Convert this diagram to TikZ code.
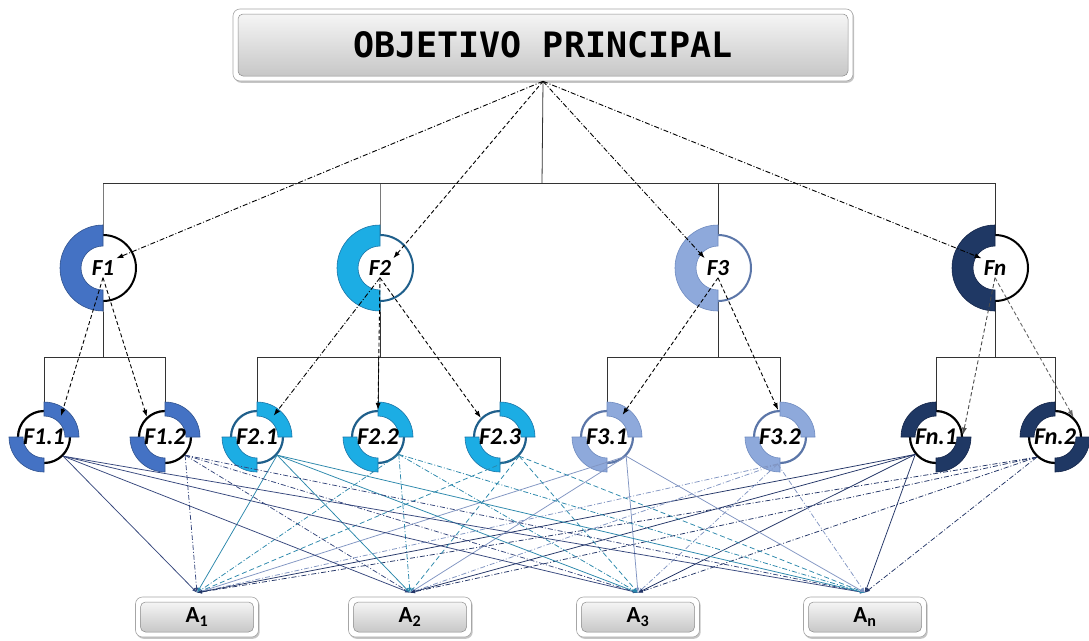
\documentclass[tikz,border=0pt]{standalone}
\usepackage{fontspec}
\usetikzlibrary{arrows.meta,calc,shadows}
\newfontfamily\lblfont{Carlito}
\newfontfamily\titlefont{DejaVu Sans Mono}

% palette of the four branches
\definecolor{cA}{HTML}{4472C4}\definecolor{cAd}{HTML}{2F528F}
\definecolor{cB}{HTML}{1CADE4}\definecolor{cBd}{HTML}{1A75A8}\definecolor{cBr}{HTML}{1F5F8B}
\definecolor{cC}{HTML}{8EA9DB}\definecolor{cCd}{HTML}{6F8BC0}\definecolor{cCr}{HTML}{5B76A8}
\definecolor{cD}{HTML}{1F3864}\definecolor{cDd}{HTML}{13254A}
% connector colours towards the alternatives
\definecolor{lA}{HTML}{35467C}\definecolor{lB}{HTML}{2A87AB}
\definecolor{lC}{HTML}{8195C2}\definecolor{lD}{HTML}{223466}

% ring piece: fill, edge, centre, start angle, end angle, inner r, outer r
\newcommand\ringseg[7]{%
  \filldraw[fill=#1, draw=#2, line width=0.6pt]
    ($(#3)+({#4}:#6)$) -- ($(#3)+({#4}:#7)$)
    arc[start angle={#4}, end angle={#5}, radius=#7]
    -- ($(#3)+({#5}:#6)$)
    arc[start angle={#5}, end angle={#4}, radius=#6] -- cycle;}

% first-level criterion: name, x, fill, edge, circle colour, label
\newcommand\lvlone[6]{%
  \node[circle, draw=#5, line width=2pt, fill=white, minimum size=66pt, inner sep=0pt] (#1) at (#2,-268) {};
  \ringseg{#3}{#4}{#1}{90}{270}{22}{43}
  \node[flabel] (#1t) at (#1) {#6};}

% sub-criterion: name, x, fill, edge, circle colour, first angle, label
\newcommand\lvltwo[7]{%
  \node[circle, draw=#5, line width=2.2pt, fill=white, minimum size=52pt, inner sep=0pt] (#1) at (#2,-437) {};
  \ringseg{#3}{#4}{#1}{#6}{#6+90}{21}{35}
  \ringseg{#3}{#4}{#1}{#6+180}{#6+270}{21}{35}
  \node[slabel] (#1t) at (#1) {#7};}

\tikzset{
  frame/.style={draw=black!35, fill=white, rounded corners=7pt, line width=0.6pt,
    drop shadow={shadow xshift=1.2pt, shadow yshift=-1.8pt, opacity=0.45}},
  panel/.style={draw=black!45, rounded corners=5pt, line width=0.5pt,
    top color=black!4, bottom color=black!22},
  flabel/.style={inner sep=2pt, font=\lblfont\bfseries\itshape\fontsize{23}{23}\selectfont},
  slabel/.style={inner sep=1pt, font=\lblfont\bfseries\itshape\fontsize{24}{24}\selectfont},
  alabel/.style={font=\lblfont\bfseries\fontsize{23}{23}\selectfont},
  tree/.style={line width=0.8pt, black!80},
  arr/.style={line width=0.9pt, black, -{Latex[length=7pt,width=5pt]}},
  dshort/.style={dash pattern=on 4pt off 2.5pt},
  ddot/.style={dash pattern=on 5pt off 2pt on 1pt off 2pt},
  lk/.style={line width=0.75pt, -{Latex[length=5pt,width=3.5pt]}},
  ldash/.style={dash pattern=on 5pt off 3pt},
}

\begin{document}
\begin{tikzpicture}[x=1pt,y=1pt]
\useasboundingbox[fill=white] (0,0) rectangle (1089,-640);

% main objective
\node[frame, minimum width=620pt, minimum height=72pt] (topF) at (543,-45) {};
\node[panel, minimum width=610pt, minimum height=62pt,
      font=\titlefont\bfseries\fontsize{35}{35}\selectfont] (top) at (543,-45) {OBJETIVO PRINCIPAL};

% alternatives
\foreach \n/\x/\s in {A1/197/1, A2/410/2, A3/638/3, An/865/n}{
  \node[frame, minimum width=123pt, minimum height=40pt] (\n f) at (\x,-617) {};
  \node[panel, minimum width=113pt, minimum height=30pt, alabel] (\n) at (\x,-617) {A\textsubscript{\s}};
  \coordinate (t\n) at ($(\n f.north)+(0,4)$);
}

% positions of the criteria (needed before the connectors)
\path (103,-268) coordinate (F1) (380,-268) coordinate (F2)
      (718,-268) coordinate (F3) (995,-268) coordinate (Fn);

% hierarchy lines
\coordinate (bar) at (542,-183);
\coordinate (bar2) at (0,-357);
\draw[tree] (topF.south) -- (bar);
\draw[tree] (F1 |- bar) -- (Fn |- bar);
\foreach \f in {F1,F2,F3,Fn} \draw[tree] (\f |- bar) -- (\f) -- (\f |- bar2);
\draw[tree] (44,-357) -- (165,-357);
\draw[tree] (257,-357) -- (500,-357);
\draw[tree] (607,-357) -- (780,-357);
\draw[tree] (936,-357) -- (1055,-357);
\foreach \x in {44,165,257,378,500,607,780,936,1055} \draw[tree] (\x,-357) -- (\x,-437);

% sub-criteria
\lvltwo{f11}{44}{cA}{cAd}{black}{0}{F1.1}
\lvltwo{f12}{165}{cA}{cAd}{black}{0}{F1.2}
\lvltwo{f21}{257}{cB}{cBd}{cBr}{0}{F2.1}
\lvltwo{f22}{378}{cB}{cBd}{cBr}{0}{F2.2}
\lvltwo{f23}{500}{cB}{cBd}{cBr}{0}{F2.3}
\lvltwo{f31}{607}{cC}{cCd}{cCr}{0}{F3.1}
\lvltwo{f32}{780}{cC}{cCd}{cCr}{0}{F3.2}
\lvltwo{fn1}{936}{cD}{cDd}{black}{90}{Fn.1}
\lvltwo{fn2}{1055}{cD}{cDd}{black}{90}{Fn.2}

% sub-criteria towards every alternative
\foreach \t in {tA1,tA2,tA3,tAn}{
  \draw[lk, lA]        (f11.-45)  -- (\t);
  \draw[lk, lA, ddot]  (f12.-42)  -- (\t);
  \draw[lk, lB]        (f21.-42)  -- (\t);
  \draw[lk, lB, ddot]  (f22.-40)  -- (\t);
  \draw[lk, lB, ldash] (f23.-45)  -- (\t);
  \draw[lk, lC]        (f31.-45)  -- (\t);
  \draw[lk, lC, ddot]  (f32.-95)  -- (\t);
  \draw[lk, lD]        (fn1.-140) -- (\t);
  \draw[lk, lD, ddot]  (fn2.-132) -- (\t);
}

% first-level criteria
\lvlone{F1}{103}{cA}{cAd}{black}{F1}
\lvlone{F2}{380}{cB}{cBd}{cBr}{F2}
\lvlone{F3}{718}{cC}{cCd}{cCr}{F3}
\lvlone{Fn}{995}{cD}{cDd}{black}{Fn}

% objective towards criteria
\draw[arr, ddot]   (topF.south) -- (F1t.north east);
\draw[arr, dshort] (topF.south) -- (F2t.north east);
\draw[arr, ddot]   (topF.south) -- (F3t.north west);
\draw[arr, ddot]   (topF.south) -- (Fnt.north west);

% criteria towards sub-criteria
\draw[arr, dshort] (F1t.south) -- (f11.51);
\draw[arr, dshort] (F1t.south) -- (f12.132);
\draw[arr, ddot]   (F2t.south) -- (f21.52);
\draw[arr, dshort] (F2t.south) -- (f22.north);
\draw[arr, dshort] (F2t.south) -- (f23.135);
\draw[arr, dshort] (F3t.south) -- (f31.55);
\draw[arr, dshort] (F3t.south) -- (f32.94);
\draw[arr, dshort, black!70] (Fnt.south) -- (fn1.5);
\draw[arr, dshort, black!60] (Fnt.south) -- (fn2.47);
\end{tikzpicture}
\end{document}
